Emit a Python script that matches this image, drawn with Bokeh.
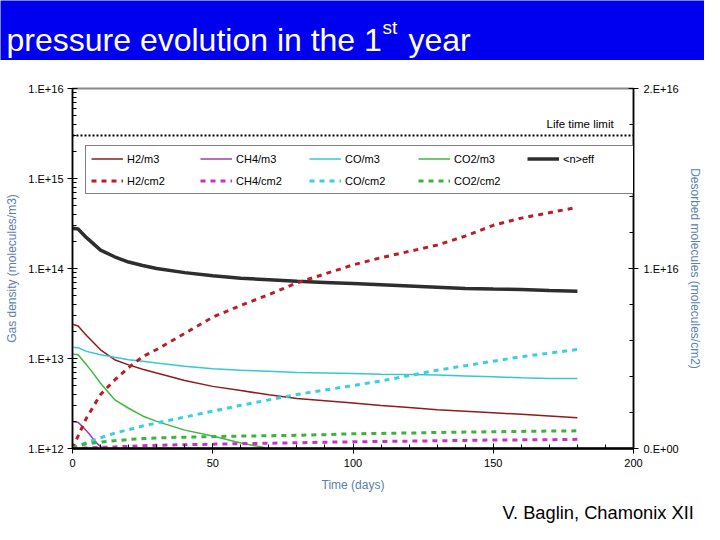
from bokeh.plotting import figure
from bokeh.models import (Range1d, LinearScale, LinearAxis, FixedTicker, SingleIntervalTicker,
                          CustomJSTickFormatter, Legend, LegendItem, Span, Label)
from bokeh.embed import file_html
from bokeh.resources import INLINE

# ---------------- data ----------------
days = [0, 2, 5, 10, 15, 20, 25, 30, 40, 50, 60, 70, 80, 90, 100, 110, 120, 130, 140, 150, 160, 170, 180]
neff = [2.8e14, 2.75e14, 2.2e14, 1.6e14, 1.35e14, 1.18e14, 1.08e14, 1.0e14, 9.0e13, 8.3e13, 7.8e13, 7.5e13,
        7.2e13, 7.0e13, 6.8e13, 6.6e13, 6.4e13, 6.2e13, 6.0e13, 5.9e13, 5.85e13, 5.7e13, 5.6e13]
h2_m3 = [2.4e13, 2.3e13, 1.8e13, 1.25e13, 9.7e12, 8.5e12, 7.6e12, 6.9e12, 5.7e12, 4.9e12, 4.4e12, 3.95e12,
         3.6e12, 3.4e12, 3.2e12, 3.0e12, 2.85e12, 2.7e12, 2.6e12, 2.5e12, 2.4e12, 2.3e12, 2.2e12]
co_m3 = [1.33e13, 1.32e13, 1.2e13, 1.1e13, 1.03e13, 9.7e12, 9.3e12, 8.9e12, 8.2e12, 7.7e12, 7.4e12, 7.2e12,
         7.0e12, 6.9e12, 6.8e12, 6.7e12, 6.65e12, 6.55e12, 6.4e12, 6.25e12, 6.1e12, 6.0e12, 6.0e12]
co2_days = [0, 2, 5, 7, 10, 15, 20, 25, 30, 40, 50, 60, 70]
co2_m3 = [1.12e13, 1.1e13, 8.5e12, 7.1e12, 5.3e12, 3.5e12, 2.8e12, 2.3e12, 2.0e12, 1.6e12, 1.38e12, 1.15e12, 1.0e12]
ch4_days = [0, 2, 4, 6, 8, 10, 11]
ch4_m3 = [2.0e12, 1.95e12, 1.7e12, 1.45e12, 1.2e12, 1.05e12, 1.0e12]

h2_cm2 = [0, 0.7e15, 1.7e15, 3.0e15, 3.8e15, 4.5e15, 5.1e15, 5.5e15, 6.4e15, 7.3e15, 7.95e15, 8.55e15,
          9.2e15, 9.7e15, 1.02e16, 1.06e16, 1.095e16, 1.13e16, 1.18e16, 1.24e16, 1.28e16, 1.31e16, 1.34e16]
co_cm2 = [0, 1.5e14, 3.3e14, 6e14, 8.5e14, 1.05e15, 1.25e15, 1.42e15, 1.75e15, 2.07e15, 2.4e15, 2.7e15,
          3.0e15, 3.25e15, 3.5e15, 3.75e15, 4.05e15, 4.35e15, 4.6e15, 4.85e15, 5.1e15, 5.3e15, 5.5e15]
co2_cm2 = [0, 1.5e14, 2.6e14, 3.6e14, 4.3e14, 5.0e14, 5.5e14, 5.9e14, 6.3e14, 6.6e14, 6.9e14, 7.1e14,
           7.3e14, 7.7e14, 8.2e14, 8.4e14, 8.6e14, 8.9e14, 9.1e14, 9.3e14, 9.5e14, 9.7e14, 9.8e14]
ch4_cm2 = [0, 1e13, 3e13, 6e13, 9e13, 1.2e14, 1.5e14, 1.8e14, 2.1e14, 2.4e14, 2.7e14, 2.9e14,
           3.2e14, 3.5e14, 3.7e14, 3.9e14, 4.1e14, 4.3e14, 4.5e14, 4.7e14, 4.8e14, 4.9e14, 5.1e14]

lifetime_limit = 3e15

left_ticks = [1e12, 1e13, 1e14, 1e15, 1e16]
left_minor = [m * 10.0 ** e for e in range(12, 16) for m in range(2, 10)]
right_ticks = [0, 1e16, 2e16]
right_minor = [k * 2e15 for k in range(0, 11)]

title_main = "pressure evolution in the 1"
title_sup = "st"
title_end = "year"
footer = "V. Baglin, Chamonix XII"

# ---------------- styling ----------------
FONT = "Liberation Sans"
BLUE = "#0000f0"
AXCOL = "#5a80b2"

fmt = CustomJSTickFormatter(code="""
const s = tick.toExponential(0);
const parts = s.split('e');
const e = parseInt(parts[1]);
const ae = Math.abs(e);
return parts[0] + '.E' + (e < 0 ? '-' : '+') + (ae < 10 ? '0' + ae : '' + ae);
""")

# ---------------- title bar ----------------
top = figure(width=704, height=60, x_range=Range1d(0, 704), y_range=Range1d(0, 60),
             output_backend="svg", toolbar_location=None, title=None,
             x_axis_location=None, y_axis_location=None, min_border=0,
             background_fill_color=BLUE, border_fill_color=BLUE, outline_line_color=None)
top.grid.visible = False
top.add_layout(Label(x=6, y=20.7, text=title_main, text_font=FONT, text_font_size="32px",
                     text_color="white", text_baseline="alphabetic"))
top.add_layout(Label(x=382, y=33, text=title_sup, text_font=FONT, text_font_size="19px",
                     text_color="white", text_baseline="alphabetic"))
top.add_layout(Label(x=408, y=20.7, text=title_end, text_font=FONT, text_font_size="32px",
                     text_color="white", text_baseline="alphabetic"))

# ---------------- main chart ----------------
p = figure(width=704, height=434, y_axis_type="log", x_range=Range1d(0, 200),
           y_range=Range1d(1e12, 1e16), output_backend="svg", toolbar_location=None, title=None,
           min_border_left=72, min_border_right=70, min_border_top=28, min_border_bottom=44,
           background_fill_color="white", border_fill_color="white")
p.extra_y_ranges = {"cm2": Range1d(0, 2e16)}
p.extra_y_scales = {"cm2": LinearScale()}
p.xgrid.grid_line_color = None
p.ygrid.grid_line_color = None
p.outline_line_color = "#888888"
p.outline_line_width = 2

right = LinearAxis(y_range_name="cm2")
p.add_layout(right, "right")

p.xaxis.ticker = SingleIntervalTicker(interval=50, num_minor_ticks=5)
p.yaxis[0].ticker = FixedTicker(ticks=left_ticks, minor_ticks=left_minor)
right.ticker = FixedTicker(ticks=right_ticks, minor_ticks=right_minor)
p.yaxis[0].formatter = fmt
right.formatter = fmt

p.xaxis.axis_label = "Time (days)"
p.yaxis[0].axis_label = "Gas density (molecules/m3)"
right.axis_label = "Desorbed molecules (molecules/cm2)"

for ax in [p.xaxis[0], p.yaxis[0], right]:
    ax.axis_line_color = "black"
    ax.axis_line_width = 1.5
    ax.major_tick_line_color = "black"
    ax.minor_tick_line_color = "black"
    ax.major_tick_in = 5
    ax.major_tick_out = 5
    ax.minor_tick_in = 4
    ax.minor_tick_out = 0
    ax.major_label_text_font = FONT
    ax.major_label_text_font_size = "11px"
    ax.major_label_text_color = "black"
    ax.axis_label_text_font = FONT
    ax.axis_label_text_font_size = "12px"
    ax.axis_label_text_font_style = "normal"
    ax.axis_label_text_color = AXCOL
p.xaxis[0].axis_line_width = 2.5
p.xaxis[0].major_label_standoff = 5
p.xaxis[0].axis_label_standoff = 8
p.yaxis[0].major_label_standoff = 4
p.yaxis[0].axis_label_standoff = 6
right.major_label_standoff = 5
right.axis_label_standoff = 6

# solid (left axis)
r_h2 = p.line(days, h2_m3, line_color="#8e1c1c", line_width=1.5)
r_ch4 = p.line(ch4_days, ch4_m3, line_color="#a03ca8", line_width=1.5)
r_co = p.line(days, co_m3, line_color="#35c8d2", line_width=1.5)
r_co2 = p.line(co2_days, co2_m3, line_color="#3fb83f", line_width=1.5)
r_neff = p.line(days, neff, line_color="#2e2e2e", line_width=3.5)

# dashed (right axis)
DASH = "5 5"
d_h2 = p.line(days, h2_cm2, y_range_name="cm2", line_color="#b82025", line_width=3, line_dash=DASH)
d_ch4 = p.line(days, ch4_cm2, y_range_name="cm2", line_color="#c830c8", line_width=3, line_dash=DASH)
d_co = p.line(days, co_cm2, y_range_name="cm2", line_color="#38d0e0", line_width=3, line_dash=DASH)
d_co2 = p.line(days, co2_cm2, y_range_name="cm2", line_color="#3cb43c", line_width=3, line_dash=DASH)

p.add_layout(Span(location=lifetime_limit, dimension="width", line_color="black",
                  line_width=2, line_dash="2 2"))
p.add_layout(Label(x=169, y=lifetime_limit, y_offset=12, text="Life time limit", text_font=FONT,
                   text_font_size="11.5px", text_color="black", text_baseline="alphabetic"))

legend = Legend(items=[
    LegendItem(label="H2/m3", renderers=[r_h2]),
    LegendItem(label="CH4/m3", renderers=[r_ch4]),
    LegendItem(label="CO/m3", renderers=[r_co]),
    LegendItem(label="CO2/m3", renderers=[r_co2]),
    LegendItem(label="<n>eff", renderers=[r_neff]),
    LegendItem(label="H2/cm2", renderers=[d_h2]),
    LegendItem(label="CH4/cm2", renderers=[d_ch4]),
    LegendItem(label="CO/cm2", renderers=[d_co]),
    LegendItem(label="CO2/cm2", renderers=[d_co2]),
], orientation="horizontal", ncols=5, location=(13, 254),
    glyph_width=32, glyph_height=15, label_standoff=4, label_width=66, spacing=7, padding=5,
    label_text_font=FONT, label_text_font_size="11px", label_text_color="black",
    border_line_color="black", border_line_width=1, background_fill_color="white",
    background_fill_alpha=1.0, margin=0)
p.add_layout(legend, "center")

# ---------------- footer ----------------
foot = figure(width=704, height=30, x_range=Range1d(0, 704), y_range=Range1d(0, 30),
              output_backend="svg", toolbar_location=None, title=None,
              x_axis_location=None, y_axis_location=None, min_border=0,
              background_fill_color="white", border_fill_color="white", outline_line_color=None)
foot.grid.visible = False
foot.add_layout(Label(x=502, y=12, text=footer, text_font=FONT, text_font_size="18.3px",
                      text_color="black", text_baseline="alphabetic"))

open("out.html", "w").write(file_html([top, p, foot], INLINE))
